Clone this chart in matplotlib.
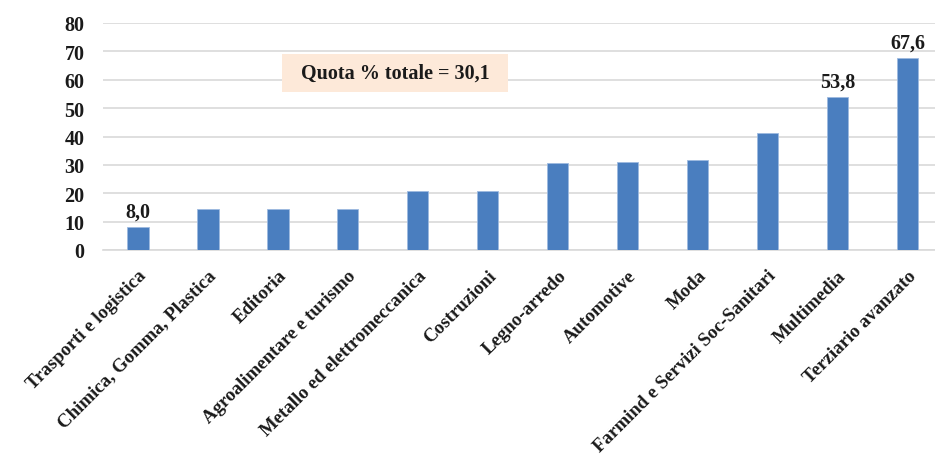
import matplotlib
matplotlib.use("Agg")
import matplotlib.pyplot as plt
from matplotlib.patches import Rectangle
from matplotlib.transforms import ScaledTranslation

categories = ["Trasporti e logistica", "Chimica, Gomma, Plastica", "Editoria",
              "Agroalimentare e turismo", "Metallo ed elettromeccanica", "Costruzioni",
              "Legno-arredo", "Automotive", "Moda", "Farmind e Servizi Soc-Sanitari",
              "Multimedia", "Terziario avanzato"]
values = [8.0, 14.4, 14.4, 14.4, 20.7, 20.7, 30.8, 31.0, 31.7, 41.1, 53.8, 67.6]
labelled = {0: "8,0", 10: "53,8", 11: "67,6"}
yticks = [0, 10, 20, 30, 40, 50, 60, 70, 80]
note = "Quota % totale = 30,1"

plt.rcParams['font.family'] = ['Liberation Serif', 'DejaVu Serif']
plt.rcParams['font.weight'] = 'bold'

W, H = 935, 460
fig = plt.figure(figsize=(W / 100, H / 100), dpi=100)
left, right, top, bottom = 102.7, 942.5, 24, 251
ax = fig.add_axes([left / W, 1 - bottom / H, (right - left) / W, (bottom - top) / H])

x = list(range(len(categories)))
ax.bar(x, values, width=0.31, color="#4A7EBF", edgecolor="#9DBAE0", linewidth=0.6, zorder=3)

for i, t in labelled.items():
    ax.text(i, values[i] + 2.0, t, ha="center", va="bottom", fontsize=14.5,
            fontweight="bold", color="#1a1a1a")

ax.set_xlim(-0.5, len(categories) - 0.5)
ax.set_ylim(0, 80)
ax.set_yticks(yticks)
ax.set_yticklabels([str(v) for v in yticks], fontsize=14.5, fontweight="bold", color="#1a1a1a")
ax.set_xticks(x)
ax.set_xticklabels(categories, rotation=45, ha="right", rotation_mode="anchor",
                   fontsize=13.6, fontweight="bold", color="#1a1a1a")
off = ScaledTranslation(-12 / 100, -3 / 100, fig.dpi_scale_trans)
for lab in ax.get_xticklabels():
    lab.set_transform(lab.get_transform() + off)
ax.tick_params(axis="both", length=0)
ax.tick_params(axis="x", pad=12)
ax.tick_params(axis="y", pad=13)
for s in ["top", "right", "left"]:
    ax.spines[s].set_visible(False)
ax.spines["bottom"].set_color("#d9d9d9")
ax.spines["bottom"].set_linewidth(1.2)
ax.yaxis.grid(True, color="#d9d9d9", linewidth=1.2, zorder=0)
ax.set_axisbelow(True)

ax.add_patch(Rectangle((2.06, 55.7), 3.23, 13.4, facecolor="#FDE9D9", edgecolor="none", zorder=4))
ax.text(3.675, 62.5, note, ha="center", va="center", fontsize=14.5, fontweight="bold",
        color="#1a1a1a", zorder=5)

fig.savefig("out.png", dpi=100)
